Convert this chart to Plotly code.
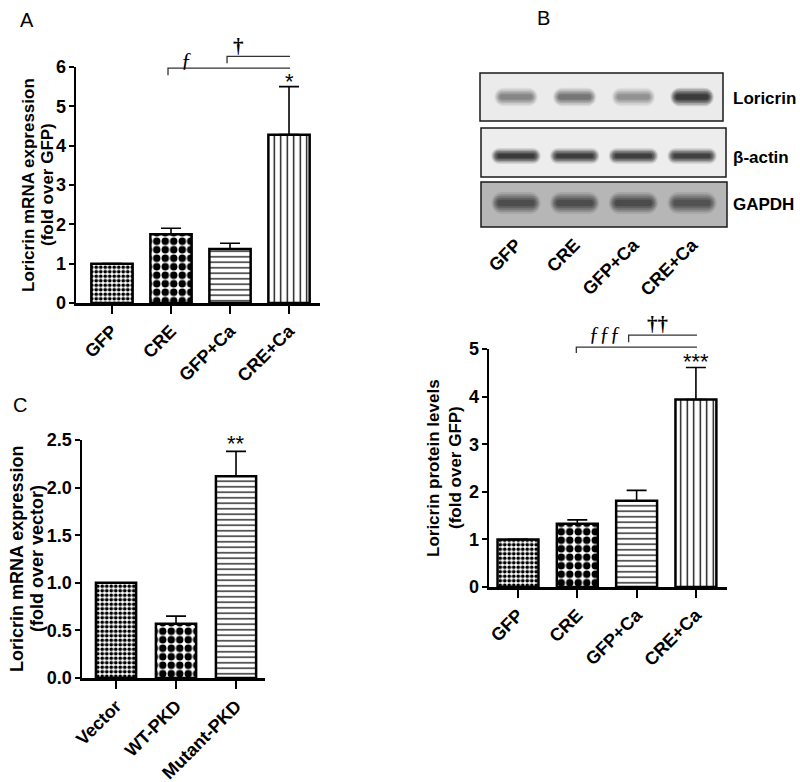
import plotly.graph_objects as go

W, H = 800, 782

# ---------------- data ----------------
cats_AB = ["GFP", "CRE", "GFP+Ca", "CRE+Ca"]
mrna_A = [1.0, 1.75, 1.37, 4.28]
mrna_A_err = [0.0, 0.15, 0.15, 1.22]
protein_B = [1.0, 1.33, 1.81, 3.94]
protein_B_err = [0.0, 0.08, 0.22, 0.67]
cats_C = ["Vector", "WT-PKD", "Mutant-PKD"]
mrna_C = [1.0, 0.57, 2.12]
mrna_C_err = [0.0, 0.08, 0.26]
ticks_A = [0, 1, 2, 3, 4, 5, 6]
ticks_B = [0, 1, 2, 3, 4, 5]
ticks_C = [0.0, 0.5, 1.0, 1.5, 2.0, 2.5]
blot_rows = ["Loricrin", "β-actin", "GAPDH"]
blot_loricrin = [0.42, 0.50, 0.36, 0.95]   # band darkness per lane
blot_actin = [0.97, 0.93, 0.92, 0.90]
blot_gapdh = [0.62, 0.62, 0.64, 0.58]

# ---------------- styles / geometry ----------------
FONT = "Liberation Sans, Arial, sans-serif"
SERIF = "Liberation Serif, DejaVu Serif, serif"

PA = dict(xl=76, xr=320, yt=67, yb=303, r0=-0.61, r1=3.525, ymax=6)
PB = dict(xl=489, xr=727, yt=349, yb=587, r0=-0.489, r1=3.524, ymax=5)
PC = dict(xl=82, xr=265, yt=440, yb=678, r0=-0.567, r1=2.483, ymax=2.5)
PL = dict(xl=470, xr=740, yt=60, yb=230, r0=-0.784, r1=3.816)

row_center_px = [97, 156, 203]
row_height_px = [11, 9, 13]
row_width = [0.74, 0.84, 0.84]
box_px = [(480, 723, 73, 121, "#ebebeb"), (481, 726, 128, 177, "#ededed"), (481, 727, 182, 227, "#b6b6b6")]


def dom_x(p):
    return [p["xl"] / W, p["xr"] / W]


def dom_y(p):
    return [1 - p["yb"] / H, 1 - p["yt"] / H]


def pxx(p, v):
    return p["xl"] + (v - p["r0"]) / (p["r1"] - p["r0"]) * (p["xr"] - p["xl"])


def pxy(p, v):
    return p["yb"] - v / p["ymax"] * (p["yb"] - p["yt"])


def fx(px):
    return px / W


def fy(py):
    return 1 - py / H


FINE = (".", 4.5, 0.55)
CHECK = (".", 8.5, 0.6)
HLINE = ("-", 5.5, 0.22)
VLINE = ("|", 6.5, 0.2)


def bar_trace(vals, errs, pats, width, xa, ya):
    n = len(vals)
    return go.Bar(
        x=list(range(n)), y=vals, width=width, xaxis=xa, yaxis=ya,
        marker=dict(color="white", line=dict(color="black", width=2.5),
                    pattern=dict(shape=[p[0] for p in pats], size=[p[1] for p in pats],
                                 solidity=[p[2] for p in pats], fgcolor="black",
                                 bgcolor="white", fgopacity=1)),
        error_y=dict(type="data", array=errs, arrayminus=[0] * n, symmetric=False,
                     color="black", thickness=1.6, width=10),
        showlegend=False, hoverinfo="skip")


fig = go.Figure()
fig.add_trace(bar_trace(mrna_A, mrna_A_err, [FINE, CHECK, HLINE, VLINE], 0.70, "x", "y"))
fig.add_trace(bar_trace(protein_B, protein_B_err, [FINE, CHECK, HLINE, VLINE], 0.69, "x2", "y2"))
fig.add_trace(bar_trace(mrna_C, mrna_C_err, [FINE, CHECK, HLINE], 0.67, "x3", "y3"))

# ---- western blot bands (soft layered bars) ----
rows_dark = [blot_loricrin, blot_actin, blot_gapdh]
layers = [(1.0, 1.7, 0.14), (0.95, 1.4, 0.2), (0.9, 1.1, 0.25), (0.84, 0.8, 0.3), (0.76, 0.5, 0.35)]
for wf, hf, a in layers:
    xs, bases, ys, ws, cols = [], [], [], [], []
    for r, dark in enumerate(rows_dark):
        for lane, d in enumerate(dark):
            h = row_height_px[r] * hf
            xs.append(lane)
            bases.append(row_center_px[r] - h / 2)
            ys.append(h)
            ws.append(row_width[r] * wf)
            cols.append("rgba(0,0,0,%.3f)" % (a * d))
    fig.add_trace(go.Bar(x=xs, y=ys, base=bases, width=ws, xaxis="x4", yaxis="y4",
                         marker=dict(color=cols, line=dict(width=0), cornerradius="30%"),
                         showlegend=False, hoverinfo="skip"))


def xcfg(p, cats, anchor, fs=18):
    return dict(domain=dom_x(p), range=[p["r0"], p["r1"]], anchor=anchor, automargin=False,
                tickmode="array", tickvals=list(range(len(cats))), ticktext=cats,
                tickangle=-45, ticks="outside", ticklen=8, tickwidth=2, tickcolor="black",
                showline=True, linecolor="black", linewidth=2.5, showgrid=False, zeroline=False,
                tickfont=dict(family=FONT, size=fs, color="black", weight="bold"), fixedrange=True)


def ycfg(p, tv, anchor, fmt, fs=18):
    return dict(domain=dom_y(p), range=[0, p["ymax"]], anchor=anchor, automargin=False,
                tickmode="array", tickvals=tv, tickformat=fmt,
                ticks="outside", ticklen=5, tickwidth=2, tickcolor="black", ticklabelstandoff=-1,
                showline=True, linecolor="black", linewidth=2.5, showgrid=False, zeroline=False,
                tickfont=dict(family=FONT, size=fs, color="black", weight="bold"), fixedrange=True)


fig.update_layout(
    template="none",
    width=W, height=H, margin=dict(l=0, r=0, t=0, b=0, pad=0), autosize=False,
    paper_bgcolor="white", plot_bgcolor="rgba(0,0,0,0)",
    font=dict(family=FONT, color="black"),
    barmode="overlay", showlegend=False,
    xaxis=xcfg(PA, cats_AB, "y"), yaxis=ycfg(PA, ticks_A, "x", "d"),
    xaxis2=xcfg(PB, cats_AB, "y2"), yaxis2=ycfg(PB, ticks_B, "x2", "d"),
    xaxis3=xcfg(PC, cats_C, "y3"), yaxis3=ycfg(PC, ticks_C, "x3", ".1f"),
    xaxis4=dict(domain=dom_x(PL), range=[PL["r0"], PL["r1"]], anchor="y4", automargin=False,
                tickmode="array", tickvals=list(range(len(cats_AB))), ticktext=cats_AB,
                tickangle=-45, ticks="", showline=False, showgrid=False, zeroline=False,
                tickfont=dict(family=FONT, size=18, color="black", weight="bold"), fixedrange=True),
    yaxis4=dict(domain=dom_y(PL), range=[PL["yb"], PL["yt"]], anchor="x4", visible=False,
                automargin=False, fixedrange=True),
)

shapes = []
for x0, x1, y0, y1, c in box_px:
    shapes.append(dict(type="rect", xref="paper", yref="paper", x0=fx(x0), x1=fx(x1),
                       y0=fy(y0), y1=fy(y1), fillcolor=c, line=dict(color="#1a1a1a", width=1.5),
                       layer="below"))


def bracket(p, i0, i1, level, drop_px, dx0=0, dx1=0):
    x0 = pxx(p, i0) + dx0
    x1 = pxx(p, i1) + dx1
    y = pxy(p, level)
    path = "M %.4f,%.4f L %.4f,%.4f L %.4f,%.4f" % (fx(x0), fy(y + drop_px), fx(x0), fy(y), fx(x1), fy(y))
    return dict(type="path", xref="paper", yref="paper", path=path,
                line=dict(color="#333333", width=1.3))


shapes.append(bracket(PA, 1, 3, 5.97, 7, -3, 1))
shapes.append(bracket(PA, 2, 3, 6.27, 7, -3, 1))
shapes.append(bracket(PB, 1, 3, 5.04, 6, -1, 1))
shapes.append(bracket(PB, 2, 3, 5.29, 7, -8, 1))
fig.update_layout(shapes=shapes)

ann = []


def txt(x, y, s, size, family=FONT, bold=False, xanchor="center", angle=0, color="black"):
    ann.append(dict(x=fx(x), y=fy(y), xref="paper", yref="paper", text=s, showarrow=False,
                    xanchor=xanchor, yanchor="middle", textangle=angle,
                    font=dict(family=family, size=size, color=color,
                              weight="bold" if bold else "normal")))


# panel letters
txt(27, 20, "A", 20)
txt(543, 18, "B", 20)
txt(20, 405, "C", 20)

# y axis titles (two lines each)
ymidA = (PA["yt"] + PA["yb"]) / 2
ymidB = (PB["yt"] + PB["yb"]) / 2
ymidC = (PC["yt"] + PC["yb"]) / 2
txt(28, ymidA, "Loricrin mRNA expression", 17, bold=True, angle=-90)
txt(47, ymidA, "(fold over GFP)", 17, bold=True, angle=-90)
txt(433, ymidB, "Loricrin protein levels", 17, bold=True, angle=-90)
txt(455, ymidB, "(fold over GFP)", 17, bold=True, angle=-90)
txt(17, ymidC, "Loricrin mRNA expression", 18, bold=True, angle=-90)
txt(37, ymidC, "(fold over vector)", 18, bold=True, angle=-90)

# blot labels
for name, yc in zip(blot_rows, row_center_px):
    txt(731, yc + 1, name, 17, bold=True, xanchor="left")

# significance marks
txt(pxx(PA, 3), pxy(PA, mrna_A[3] + mrna_A_err[3]) - 5, "*", 22)
txt(pxx(PB, 3), pxy(PB, protein_B[3] + protein_B_err[3]) - 6, "***", 22)
txt(pxx(PC, 2), pxy(PC, mrna_C[2] + mrna_C_err[2]) - 8, "**", 22)
txt(pxx(PA, 1.27), 59, "ƒ", 22, family=SERIF)
txt(pxx(PA, 2.14), 46, "†", 21, family=SERIF, bold=True)
txt(pxx(PB, 1.47), 334, "ƒƒƒ", 21, family=SERIF)
txt(pxx(PB, 2.36), 324, "††", 21, family=SERIF, bold=True)

fig.update_layout(annotations=ann)
fig.write_html("out.html", config={"displayModeBar": False, "staticPlot": True},
               post_script="document.body.style.margin='0';document.body.style.padding='0';")
